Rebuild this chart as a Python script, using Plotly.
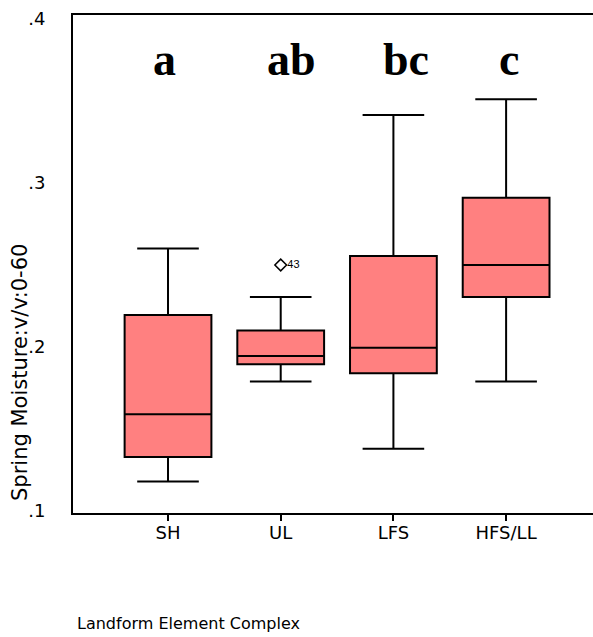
import plotly.graph_objects as go

categories = ["SH", "UL", "LFS", "HFS/LL"]
lower_whisker = [0.118, 0.179, 0.138, 0.179]
q1 = [0.133, 0.1895, 0.184, 0.2305]
median = [0.159, 0.1945, 0.1995, 0.250]
q3 = [0.2195, 0.210, 0.2555, 0.291]
upper_whisker = [0.260, 0.2305, 0.3415, 0.351]
outlier_cat = [1]
outlier_val = [0.250]
outlier_label = ["43"]
group_letters = ["a", "ab", "bc", "c"]
letter_offsets = [-0.035, 0.10, 0.11, 0.03]
ytick_vals = [0.1, 0.2, 0.3, 0.4]
ytick_text = [".1", ".2", ".3", ".4"]

xpos = list(range(len(categories)))

W, H = 593, 637
ml, mr, mt, mb = 73, 0, 15, 124
pw, ph = W - ml - mr, H - mt - mb

SANS = "DejaVu Sans, Verdana, sans-serif"

fig = go.Figure()
fig.add_trace(go.Box(
    x=xpos, q1=q1, median=median, q3=q3,
    lowerfence=lower_whisker, upperfence=upper_whisker,
    width=0.77, whiskerwidth=0.71,
    fillcolor="#FF8080", line=dict(color="black", width=2),
    boxpoints=False, showlegend=False, hoverinfo="skip",
))
fig.add_trace(go.Scatter(
    x=[xpos[i] for i in outlier_cat], y=outlier_val,
    mode="markers+text", text=outlier_label, textposition="middle right",
    textfont=dict(family="Liberation Sans Narrow, Liberation Sans, Arial", size=11, color="black"),
    marker=dict(symbol="diamond-open", size=9, color="black", line=dict(width=1.5, color="black")),
    showlegend=False, hoverinfo="skip",
))

for i, lab in enumerate(group_letters):
    fig.add_annotation(
        x=xpos[i] + letter_offsets[i], y=0.375, xref="x", yref="y",
        text="<b>%s</b>" % lab, showarrow=False, yanchor="middle",
        font=dict(family="Liberation Serif, Times New Roman, serif", size=46, color="black"),
    )

fig.add_annotation(
    x=(75 - ml) / pw, y=(H - 623 - mb) / ph, xref="paper", yref="paper",
    text="Landform Element Complex",
    showarrow=False, xanchor="left", yanchor="middle",
    font=dict(family=SANS, size=16, color="black"),
)
fig.add_annotation(
    x=(20 - ml) / pw, y=(H - 373 - mb) / ph, xref="paper", yref="paper",
    text="Spring Moisture:v/v:0-60", textangle=-90, showarrow=False,
    xanchor="center", yanchor="middle",
    font=dict(family=SANS, size=21, color="black"),
)

fig.update_layout(
    width=W, height=H,
    margin=dict(l=ml, r=mr, t=mt, b=mb),
    paper_bgcolor="white", plot_bgcolor="white",
    font=dict(family=SANS, size=16, color="black"),
    xaxis=dict(
        range=[-0.843, 3.771], tickmode="array", tickvals=xpos, ticktext=categories,
        showgrid=False, zeroline=False, showline=True, linecolor="black", linewidth=2,
        mirror=True, ticks="outside", ticklen=6, tickwidth=1.5, tickcolor="black",
        tickfont=dict(size=18), ticklabelstandoff=-4,
    ),
    yaxis=dict(
        range=[0.0988, 0.4024], tickmode="array", tickvals=ytick_vals, ticktext=ytick_text,
        showgrid=False, zeroline=False, showline=True, linecolor="black", linewidth=2,
        ticks="", tickfont=dict(size=18), ticklabelstandoff=22,
    ),
)

fig.write_html(
    "out.html",
    config={"displayModeBar": False},
    post_script="document.body.style.margin='0';document.body.style.overflow='hidden';",
)
